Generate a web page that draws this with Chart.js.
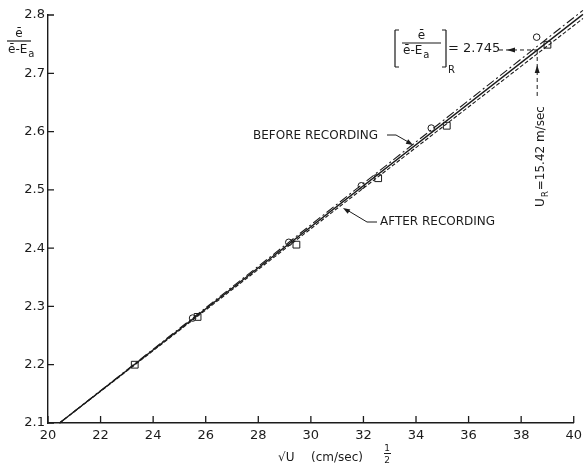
<!DOCTYPE html>
<html>
<head>
<meta charset="utf-8">
<script src="https://cdn.jsdelivr.net/npm/chart.js@4.4.0/dist/chart.umd.min.js"></script>
<style>
  html, body { margin: 0; padding: 0; background: #fff; }
  canvas { display: block; }
</style>
</head>
<body>
<canvas id="calib" width="587" height="472"></canvas>
<script>
// tick labels
const xTicks = [20, 22, 24, 26, 28, 30, 32, 34, 36, 38, 40];
const yTicks = [2.1, 2.2, 2.3, 2.4, 2.5, 2.6, 2.7, 2.8];

// measured points (circles = before, squares = after)
const beforeX = [25.5, 29.16, 31.92, 34.58, 38.59];
const beforeY = [2.28, 2.41, 2.507, 2.606, 2.762];
const afterX = [23.3, 25.69, 29.45, 32.56, 35.17, 39.0];
const afterY = [2.2, 2.282, 2.406, 2.52, 2.61, 2.749];

// fitted lines (end points)
const lineX = [20.44, 40.35];
const beforeLineY = [2.1, 2.808];
const meanLineY = [2.1, 2.801];
const afterLineY = [2.1, 2.794];

// reading point
const refX = 38.61;
const refY = 2.74;

const INK = "#1b1b1b";
const FONT = "DejaVu Sans, Liberation Sans, sans-serif";

function pts(xs, ys) {
  return xs.map((x, i) => ({ x: x, y: ys[i] }));
}

function arrowHead(ctx, x, y, ang, len, half) {
  ctx.save();
  ctx.translate(x, y);
  ctx.rotate(ang);
  ctx.beginPath();
  ctx.moveTo(0, 0);
  ctx.lineTo(-len, -half);
  ctx.lineTo(-len, half);
  ctx.closePath();
  ctx.fill();
  ctx.restore();
}

// e / (e - E_a) stacked fraction
function ratio(ctx, left, right, numY, barY, denY) {
  const cx = (left + right) / 2;
  ctx.font = "12px " + FONT;
  ctx.textAlign = "center";
  ctx.textBaseline = "middle";
  ctx.fillText("ē", cx, numY);
  ctx.lineWidth = 1.2;
  ctx.beginPath();
  ctx.moveTo(left, barY);
  ctx.lineTo(right, barY);
  ctx.stroke();
  ctx.textAlign = "left";
  ctx.fillText("ē-E", left + 1, denY);
  const w = ctx.measureText("ē-E").width;
  ctx.font = "10px " + FONT;
  ctx.fillText("a", left + 2 + w, denY + 4);
}

const decor = {
  id: "decor",
  afterDraw(chart) {
    const ctx = chart.ctx;
    const xs = chart.scales.x;
    const ys = chart.scales.y;
    const area = chart.chartArea;
    ctx.save();
    ctx.strokeStyle = INK;
    ctx.fillStyle = INK;
    ctx.lineWidth = 1.3;

    // inward ticks
    ctx.beginPath();
    yTicks.forEach(v => {
      const p = ys.getPixelForValue(v);
      ctx.moveTo(area.left, p);
      ctx.lineTo(area.left + 6, p);
    });
    xTicks.forEach(v => {
      const p = xs.getPixelForValue(v);
      ctx.moveTo(p, area.bottom);
      ctx.lineTo(p, area.bottom - 7);
    });
    ctx.stroke();

    // y title
    ratio(ctx, 7, 31, 34, 41, 50);

    // x title
    ctx.font = "12px " + FONT;
    ctx.textBaseline = "alphabetic";
    ctx.textAlign = "left";
    ctx.fillText("√U", 278, 461);
    ctx.fillText("(cm/sec)", 311, 461);
    ctx.font = "9px " + FONT;
    ctx.textAlign = "center";
    ctx.fillText("1", 387, 451);
    ctx.fillText("2", 387, 463);
    ctx.lineWidth = 1;
    ctx.beginPath();
    ctx.moveTo(384, 453.5);
    ctx.lineTo(391, 453.5);
    ctx.stroke();

    // curve labels
    ctx.font = "12px " + FONT;
    ctx.textAlign = "left";
    ctx.textBaseline = "middle";
    ctx.fillText("BEFORE RECORDING", 253, 136);
    ctx.fillText("AFTER RECORDING", 380, 222);
    ctx.lineWidth = 1;
    ctx.beginPath();
    ctx.moveTo(387, 135);
    ctx.lineTo(396, 135);
    ctx.lineTo(410, 143);
    ctx.stroke();
    arrowHead(ctx, 413, 145, Math.atan2(8, 14), 7, 2.5);
    ctx.beginPath();
    ctx.moveTo(377, 222);
    ctx.lineTo(367, 222);
    ctx.lineTo(347, 210);
    ctx.stroke();
    arrowHead(ctx, 343, 208, Math.atan2(-12, -20), 7, 2.5);

    // reading annotation
    const rx = xs.getPixelForValue(refX);
    const ry = ys.getPixelForValue(refY);
    ctx.lineWidth = 1.2;
    ctx.beginPath();
    ctx.moveTo(395, 30); ctx.lineTo(395, 67);
    ctx.moveTo(395, 30); ctx.lineTo(399, 30);
    ctx.moveTo(395, 67); ctx.lineTo(399, 67);
    ctx.moveTo(446, 30); ctx.lineTo(446, 67);
    ctx.moveTo(446, 30); ctx.lineTo(442, 30);
    ctx.moveTo(446, 67); ctx.lineTo(442, 67);
    ctx.stroke();
    ratio(ctx, 402, 441, 36, 43, 51);
    ctx.font = "10px " + FONT;
    ctx.textAlign = "left";
    ctx.fillText("R", 448, 70);
    ctx.font = "13px " + FONT;
    ctx.fillText("= 2.745", 448, ry - 1);

    ctx.lineWidth = 1;
    ctx.setLineDash([4, 3]);
    ctx.beginPath();
    ctx.moveTo(499, ry);
    ctx.lineTo(rx, ry);
    ctx.moveTo(rx, ry);
    ctx.lineTo(rx, ry + 48);
    ctx.stroke();
    ctx.setLineDash([]);
    arrowHead(ctx, 507, ry, Math.PI, 8, 2.5);
    arrowHead(ctx, rx, ry + 15, -Math.PI / 2, 8, 2.5);

    ctx.save();
    ctx.translate(rx + 4, 207);
    ctx.rotate(-Math.PI / 2);
    ctx.textAlign = "left";
    ctx.textBaseline = "middle";
    ctx.font = "12px " + FONT;
    ctx.fillText("U", 0, 0);
    let w = ctx.measureText("U").width;
    ctx.font = "9px " + FONT;
    ctx.fillText("R", w + 1, 4);
    w += 8;
    ctx.font = "12px " + FONT;
    ctx.fillText("=15.42 m/sec", w, 0);
    ctx.restore();

    ctx.restore();
  }
};

const lineBase = {
  showLine: true,
  pointRadius: 0,
  borderColor: INK,
  fill: false,
  clip: false,
};

new Chart(document.getElementById("calib"), {
  type: "scatter",
  data: {
    datasets: [
      Object.assign({}, lineBase, {
        label: "Before recording",
        data: pts(lineX, beforeLineY),
        borderWidth: 1.1,
        borderDash: [9, 3, 2, 3],
      }),
      Object.assign({}, lineBase, {
        label: "Fit",
        data: pts(lineX, meanLineY),
        borderWidth: 1.4,
      }),
      Object.assign({}, lineBase, {
        label: "After recording",
        data: pts(lineX, afterLineY),
        borderWidth: 1.1,
        borderDash: [4, 2],
      }),
      {
        label: "Before points",
        data: pts(beforeX, beforeY),
        pointStyle: "circle",
        pointRadius: 3.3,
        borderWidth: 1,
        borderColor: INK,
        backgroundColor: "#fff",
        clip: false,
      },
      {
        label: "After points",
        data: pts(afterX, afterY),
        pointStyle: "rect",
        pointRadius: 4.8,
        borderWidth: 1,
        borderColor: INK,
        backgroundColor: "#fff",
        clip: false,
      },
    ],
  },
  options: {
    responsive: false,
    animation: false,
    devicePixelRatio: 1,
    layout: { padding: { top: 15, right: 10, left: 0, bottom: 0 } },
    plugins: { legend: { display: false }, tooltip: { enabled: false } },
    scales: {
      x: {
        type: "linear",
        min: 20,
        max: 40,
        afterBuildTicks: s => { s.ticks = xTicks.map(v => ({ value: v })); },
        afterFit: s => { s.height = 49; },
        ticks: {
          autoSkip: false,
          maxRotation: 0,
          padding: 5,
          color: INK,
          font: { family: FONT, size: 13 },
          callback: v => String(v),
        },
        grid: { drawOnChartArea: false, drawTicks: false },
        border: { display: true, color: INK, width: 1.4 },
      },
      y: {
        type: "linear",
        min: 2.1,
        max: 2.8,
        afterBuildTicks: s => { s.ticks = yTicks.map(v => ({ value: v })); },
        afterFit: s => { s.width = 48; },
        ticks: {
          padding: 3,
          color: INK,
          font: { family: FONT, size: 13 },
          callback: v => Number(v).toFixed(1),
        },
        grid: { drawOnChartArea: false, drawTicks: false },
        border: { display: true, color: INK, width: 1.4 },
      },
    },
  },
  plugins: [decor],
});
</script>
</body>
</html>
